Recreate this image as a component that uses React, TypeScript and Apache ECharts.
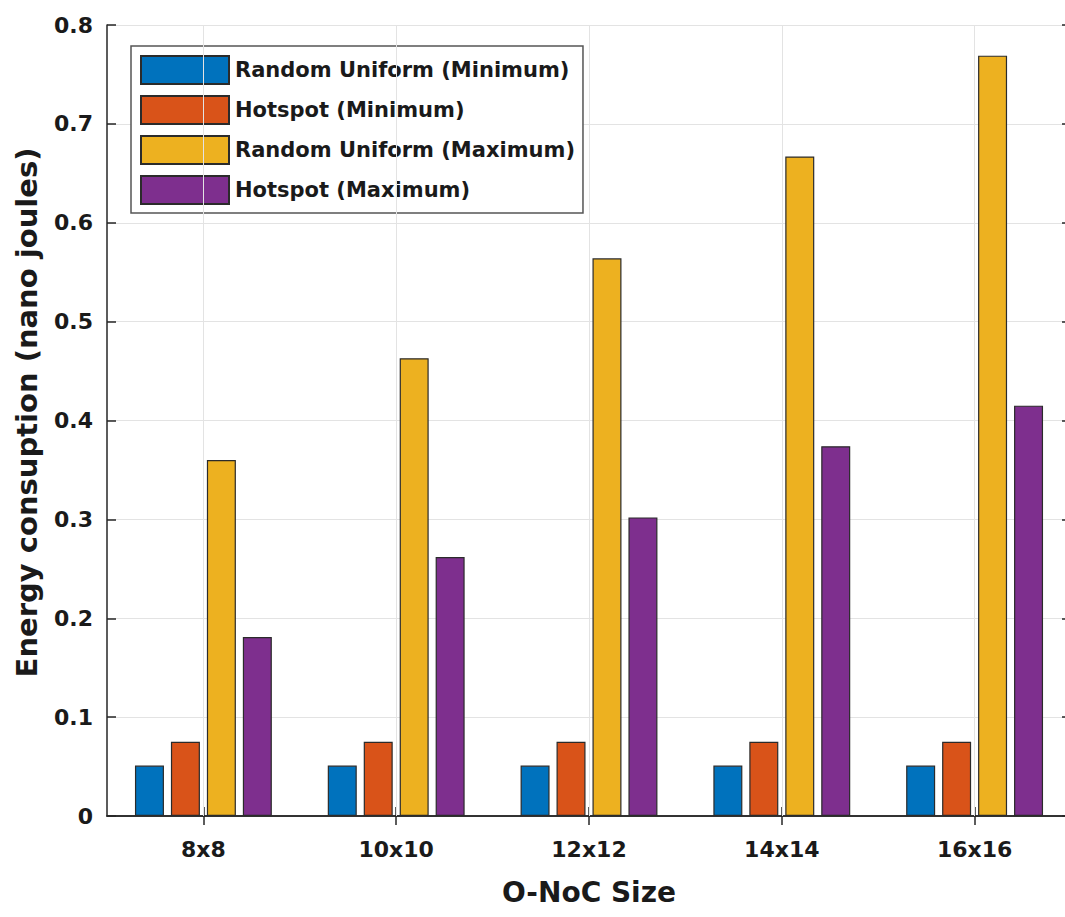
import React, { useEffect, useRef } from "react";
import * as echarts from "echarts";

const categories = ["8x8", "10x10", "12x12", "14x14", "16x16"];
const randomUniformMin = [0.051, 0.051, 0.051, 0.051, 0.051];
const hotspotMin = [0.075, 0.075, 0.075, 0.075, 0.075];
const randomUniformMax = [0.36, 0.463, 0.564, 0.667, 0.769];
const hotspotMax = [0.181, 0.262, 0.302, 0.374, 0.415];
const seriesNames = [
  "Random Uniform (Minimum)",
  "Hotspot (Minimum)",
  "Random Uniform (Maximum)",
  "Hotspot (Maximum)",
];
const colors = ["#0072BD", "#D95319", "#EDB120", "#7E2F8E"];
const yTicks = [0, 0.1, 0.2, 0.3, 0.4, 0.5, 0.6, 0.7, 0.8];

const FONT = "DejaVu Sans";

export default function App() {
  const ref = useRef<HTMLDivElement>(null);
  useEffect(() => {
    if (!ref.current) return;
    const chart = echarts.init(ref.current, null, { renderer: "svg" });
    const values = [randomUniformMin, hotspotMin, randomUniformMax, hotspotMax];
    const axisLine = { show: true, lineStyle: { color: "#262626", width: 1.5 } };
    const tick = { show: true, inside: true, length: 9, lineStyle: { color: "#262626", width: 1.5 } };
    const option: any = {
      animation: false,
      backgroundColor: "#ffffff",
      grid: { left: 107, right: 4, top: 25, bottom: 101, containLabel: false },
      legend: {
        orient: "vertical",
        left: 131,
        top: 46,
        padding: [9, 8, 8, 9],
        itemWidth: 88,
        itemHeight: 28,
        itemGap: 10,
        borderColor: "#555",
        borderWidth: 1.5,
        backgroundColor: "#fff",
        data: seriesNames,
        icon: "rect",
        textStyle: {
          fontFamily: FONT,
          fontWeight: "bold",
          fontSize: 21,
          color: "#1a1a1a",
          padding: [0, 0, 0, 1],
        },
      },
      xAxis: [
        {
          type: "category",
          data: categories,
          position: "bottom",
          axisLine,
          axisTick: { ...tick, alignWithLabel: true },
          axisLabel: {
            fontFamily: FONT,
            fontWeight: "bold",
            fontSize: 22,
            color: "#1a1a1a",
            margin: 22,
          },
          splitLine: { show: false },
          name: "O-NoC Size",
          nameLocation: "middle",
          nameGap: 62,
          nameTextStyle: { fontFamily: FONT, fontWeight: "bold", fontSize: 28, color: "#1a1a1a" },
        },
        {
          type: "category",
          data: categories,
          position: "top",
          axisLine,
          axisTick: { ...tick, alignWithLabel: true },
          axisLabel: { show: false },
          splitLine: { show: false },
        },
      ],
      yAxis: [
        {
          type: "value",
          min: 0,
          max: 0.8,
          interval: 0.1,
          position: "left",
          axisLine,
          axisTick: tick,
          axisLabel: {
            fontFamily: FONT,
            fontWeight: "bold",
            fontSize: 22,
            color: "#1a1a1a",
            margin: 14,
            formatter: (v: number) => {
              const t = yTicks.find((x) => Math.abs(x - v) < 1e-9);
              const val = t === undefined ? v : t;
              return val === 0 ? "0" : val.toFixed(1);
            },
          },
          splitLine: { show: true, lineStyle: { color: "#e3e3e3", width: 1 } },
          name: "Energy consuption (nano joules)",
          nameLocation: "middle",
          nameGap: 66,
          nameTextStyle: {
            fontFamily: FONT,
            fontWeight: "bold",
            fontSize: 29,
            color: "#1a1a1a",
            padding: [0, 0, 0, 16],
          },
        },
        {
          type: "value",
          min: 0,
          max: 0.8,
          interval: 0.1,
          position: "right",
          axisLine,
          axisTick: tick,
          axisLabel: { show: false },
          splitLine: { show: false },
        },
      ],
      series: [
        {
          type: "line",
          name: "grid",
          data: [],
          z: 1,
          silent: true,
          markLine: {
            silent: true,
            symbol: ["none", "none"],
            label: { show: false },
            lineStyle: { color: "#e3e3e3", type: "solid", width: 1 },
            data: categories.map((c) => ({ xAxis: c })),
          },
        },
        ...seriesNames.map((name, i) => ({
          type: "bar",
          name,
          data: values[i],
          barWidth: 29,
          barGap: "24%",
          z: 3,
          itemStyle: { color: colors[i], borderColor: "#2b2b2b", borderWidth: 1.2 },
        })),
      ],
    };
    chart.setOption(option);
    return () => chart.dispose();
  }, []);
  return (
    <div
      style={{
        position: "absolute",
        left: 0,
        top: 0,
        width: 1065,
        height: 917,
        overflow: "hidden",
        background: "#fff",
      }}
    >
      <div ref={ref} style={{ width: 1075, height: 917 }} />
    </div>
  );
}
